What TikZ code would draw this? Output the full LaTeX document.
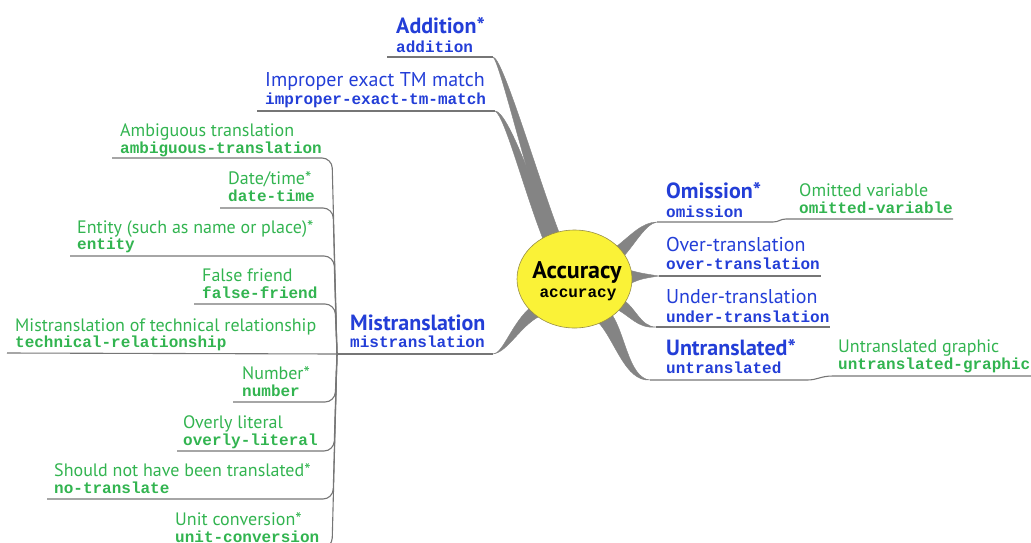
\documentclass[tikz,border=0pt]{standalone}
\usepackage{fontspec}
\usetikzlibrary{shapes.geometric}
\setmainfont{PT Sans}
\newfontfamily\codefont{Liberation Mono}
\definecolor{lblue}{RGB}{35,62,215}
\definecolor{lgreen}{RGB}{50,180,80}
\definecolor{brgray}{RGB}{132,132,132}
\definecolor{ulgray}{RGB}{118,118,118}
\definecolor{accyellow}{RGB}{250,242,55}
\definecolor{accedge}{RGB}{150,140,70}
\tikzset{
  bluelbl/.style={anchor=base west, inner sep=0pt, text=lblue, font=\fontsize{20}{22}\selectfont},
  blueblbl/.style={anchor=base west, inner sep=0pt, text=lblue, font=\fontsize{22}{24}\selectfont\bfseries},
  bluecode/.style={anchor=base west, inner sep=0pt, text=lblue, font=\fontsize{16}{18}\selectfont\codefont\bfseries},
  greenlbl/.style={anchor=base west, inner sep=0pt, text=lgreen, font=\fontsize{18}{20}\selectfont},
  greencode/.style={anchor=base west, inner sep=0pt, text=lgreen, font=\fontsize{16}{18}\selectfont\codefont\bfseries},
  uline/.style={draw=ulgray, line width=1.1pt, line join=round},
  branch/.style={fill=brgray, draw=brgray, line width=0.4pt, line join=round}
}
\begin{document}
\begin{tikzpicture}[x=1pt,y=-1pt]
\useasboundingbox (0,0) rectangle (1031,542);
\clip (0,0) rectangle (1031,542);

% ---------- coordinates ----------
\coordinate (J) at (337,354);
\coordinate (Eadd) at (493,57);
\coordinate (Eimp) at (495,111);
\coordinate (Emis) at (493,354);
\coordinate (Eom) at (657,222);
\coordinate (Eover) at (659,276);
\coordinate (Eunder) at (656,327);
\coordinate (Eunt) at (650,380);

% ---------- tapered main branches ----------
\path[branch] (Eadd) .. controls (503,57) and (540,185) .. (562,240) -- (550,242) .. controls (530,190) and (500,62) .. (Eadd) -- cycle;
\path[branch] (Eimp) .. controls (508,111) and (535,190) .. (556,242) -- (545,244) .. controls (525,195) and (505,116) .. (Eimp) -- cycle;
\path[branch] (Emis) .. controls (503,354) and (512,322) .. (532,306) -- (540,316) .. controls (520,326) and (508,352) .. (Emis) -- cycle;
\path[branch] (Eom) .. controls (642,222) and (630,236) .. (617,246) -- (622,258) .. controls (634,246) and (645,224) .. (Eom) -- cycle;
\path[branch] (625,269) .. controls (640,273) .. (Eover) .. controls (640,279) .. (625,286) -- cycle;
\path[branch] (620,298) .. controls (635,305) and (640,327) .. (Eunder) .. controls (637,329) and (630,315) .. (614,308) -- cycle;
\path[branch] (610,312) .. controls (625,330) and (628,378) .. (Eunt) .. controls (625,382) and (615,340) .. (598,322) -- cycle;

% ---------- central node ----------
\node[ellipse, draw=accedge, fill=accyellow, line width=0.6pt, minimum width=115pt, minimum height=98pt, inner sep=0pt] (acc) at (574.5,279) {};
\node[anchor=base, inner sep=0pt, font=\fontsize{24}{26}\selectfont\bfseries] (acct) at (577,278) {Accuracy};
\node[anchor=base, inner sep=0pt, font=\fontsize{16}{18}\selectfont\codefont\bfseries] (accc) at (578,297) {accuracy};

% ---------- upper-left blue ----------
\node[blueblbl] (add) at (396,33) {Addition*};
\node[bluecode] (addc) at (396,52) {addition};
\coordinate (addL) at (387,57);
\draw[uline] (addL) -- (Eadd);

\node[bluelbl] (imp) at (265,86) {Improper exact TM match};
\node[bluecode] (impc) at (265,104) {improper-exact-tm-match};
\coordinate (impL) at (257,111);
\draw[uline] (impL) -- (Eimp);

% ---------- Mistranslation ----------
\node[blueblbl] (mis) at (350,330) {Mistranslation};
\node[bluecode] (misc) at (350,347) {mistranslation};
\draw[uline] (J) -- (Emis);

% ---------- right blue ----------
\node[blueblbl] (om) at (666,198) {Omission*};
\node[bluecode] (omc) at (666,217) {omission};
\coordinate (omR) at (773,222);
\coordinate (omvL) at (786,219);
\coordinate (omvR) at (953,219);
\draw[uline] (Eom) -- (omR) .. controls (779,222) and (780,219) .. (omvL) -- (omvR);

\node[greenlbl] (omv) at (799,196) {Omitted variable};
\node[greencode] (omvc) at (799,213) {omitted-variable};

\node[bluelbl] (over) at (666,251) {Over-translation};
\node[bluecode] (overc) at (666,269) {over-translation};
\coordinate (overR) at (821,276);
\draw[uline] (Eover) -- (overR);

\node[bluelbl] (under) at (666,303) {Under-translation};
\node[bluecode] (underc) at (666,322) {under-translation};
\coordinate (underR) at (830,327);
\draw[uline] (Eunder) -- (underR);

\node[blueblbl] (unt) at (666,355) {Untranslated*};
\node[bluecode] (untc) at (666,373) {untranslated};
\coordinate (untR) at (807,380);
\coordinate (ungL) at (833,376);
\coordinate (ungR) at (1031,376);
\draw[uline] (Eunt) -- (untR) .. controls (818,380) and (820,376) .. (ungL) -- (ungR);

\node[greenlbl] (ung) at (838,352) {Untranslated graphic};
\node[greencode] (ungc) at (838,369) {untranslated-graphic};

% ---------- left green children of Mistranslation ----------
\node[greenlbl] (amb) at (120,136) {Ambiguous translation};
\node[greencode] (ambc) at (120,153) {ambiguous-translation};
\coordinate (ambL) at (112,158); \coordinate (ambR) at (332,158);
\draw[uline, rounded corners=10pt] (ambL) -- (ambR) -- (J);

\node[greenlbl] (dt) at (228,184) {Date/time*};
\node[greencode] (dtc) at (228,201) {date-time};
\coordinate (dtL) at (220,208); \coordinate (dtR) at (333,208);
\draw[uline, rounded corners=10pt] (dtL) -- (dtR) -- (J);

\node[greenlbl] (ent) at (77,233) {Entity (such as name or place)*};
\node[greencode] (entc) at (77,249) {entity};
\coordinate (entL) at (70,256); \coordinate (entR) at (334,256);
\draw[uline, rounded corners=10pt] (entL) -- (entR) -- (J);

\node[greenlbl] (ff) at (202,281) {False friend};
\node[greencode] (ffc) at (202,298) {false-friend};
\coordinate (ffL) at (194,304); \coordinate (ffR) at (335,304);
\draw[uline, rounded corners=10pt] (ffL) -- (ffR) -- (J);

\node[greenlbl] (tech) at (15,331) {Mistranslation of technical relationship};
\node[greencode] (techc) at (15,347) {technical-relationship};
\coordinate (techL) at (7,353);
\draw[uline] (techL) -- (J);

\node[greenlbl] (num) at (242,379) {Number*};
\node[greencode] (numc) at (242,396) {number};
\coordinate (numL) at (233,402); \coordinate (numR) at (335,402);
\draw[uline, rounded corners=10pt] (numL) -- (numR) -- (J);

\node[greenlbl] (ol) at (183,428) {Overly literal};
\node[greencode] (olc) at (183,445) {overly-literal};
\coordinate (olL) at (177,451); \coordinate (olR) at (334,451);
\draw[uline, rounded corners=10pt] (olL) -- (olR) -- (J);

\node[greenlbl] (sn) at (54,476) {Should not have been translated*};
\node[greencode] (snc) at (54,493) {no-translate};
\coordinate (snL) at (47,499); \coordinate (snR) at (333,499);
\draw[uline, rounded corners=10pt] (snL) -- (snR) -- (J);

\node[greenlbl] (uc) at (175,525) {Unit conversion*};
\node[greencode] (ucc) at (175,542) {unit-conversion};
\coordinate (ucL) at (165,548); \coordinate (ucR) at (332,548);
\draw[uline, rounded corners=10pt] (ucL) -- (ucR) -- (J);
\end{tikzpicture}
\end{document}
